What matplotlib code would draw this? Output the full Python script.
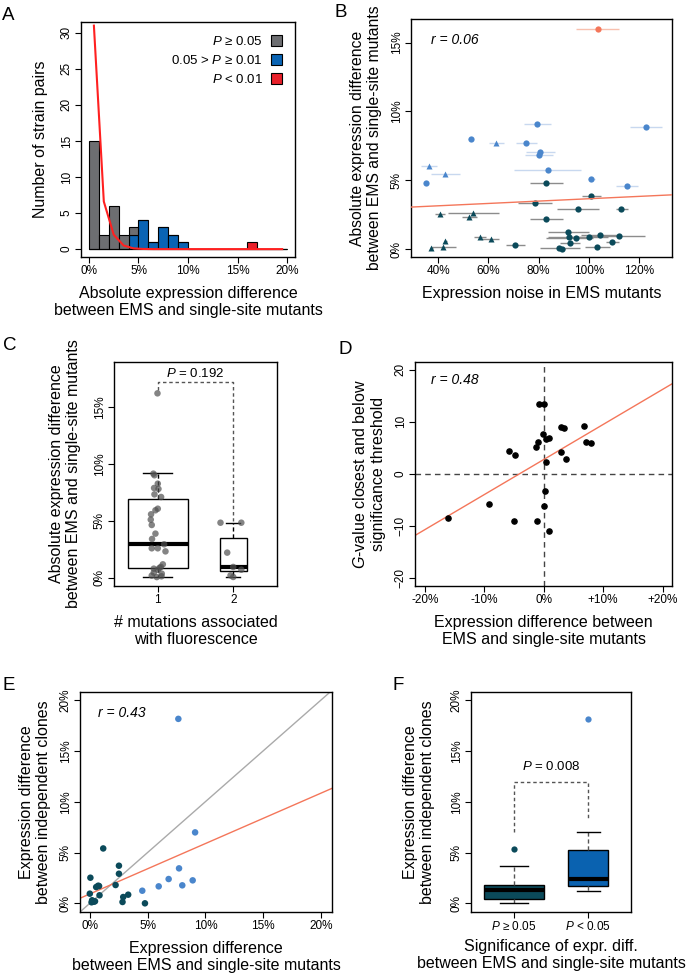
import numpy as np
import matplotlib
matplotlib.use('Agg')
import matplotlib.pyplot as plt
from matplotlib.patches import Patch

plt.rcParams['font.family'] = 'Liberation Sans'
plt.rcParams['mathtext.fontset'] = 'custom'
plt.rcParams['mathtext.it'] = 'Liberation Sans:italic'
plt.rcParams['mathtext.rm'] = 'Liberation Sans'

# ---------------- data ----------------
# A: histogram of absolute expression differences (1% bins)
a_edges = [0, 1, 2, 3, 4, 5, 6, 7, 8, 9, 10, 11, 12, 13, 14, 15, 16, 17, 18, 19, 20]
a_grey = [15, 2, 6, 2, 1, 0, 0, 0, 0, 0, 0, 0, 0, 0, 0, 0, 0, 0, 0, 0]
a_blue = [0, 0, 0, 0, 2, 4, 1, 3, 2, 1, 0, 0, 0, 0, 0, 0, 0, 0, 0, 0]
a_red = [0, 0, 0, 0, 0, 0, 0, 0, 0, 0, 0, 0, 0, 0, 0, 0, 1, 0, 0, 0]
a_null = [31.0, 6.6, 2.0, 0.5, 0.1, 0.02, 0, 0, 0, 0, 0, 0, 0, 0, 0, 0, 0, 0, 0, 0]

# B: noise vs absolute difference (x, y, xerr low, xerr high)
b_lb_circ_x = [79.5, 122.6, 53.0, 75.0, 80.7, 80.2, 83.6, 100.7, 115.1, 35.0]
b_lb_circ_y = [9.07, 8.88, 8.0, 7.74, 7.04, 6.85, 5.78, 5.06, 4.6, 4.79]
b_lb_circ_lo = [74.2, 116.3, 52.0, 71.0, 74.9, 74.6, 70.4, 99.6, 110.7, 34.2]
b_lb_circ_hi = [84.8, 129.3, 54.0, 79.4, 86.7, 85.8, 97.0, 102.6, 119.6, 35.8]
b_lb_tri_x = [63.2, 36.2, 42.8]
b_lb_tri_y = [7.69, 6.02, 5.49]
b_lb_tri_lo = [60.3, 33.1, 37.0]
b_lb_tri_hi = [66.3, 39.7, 48.6]
b_dk_circ_x = [83.1, 100.8, 78.5, 95.7, 112.8, 83.1, 91.7, 92.0, 94.8, 100.1, 104.3,
               112.0, 92.4, 109.4, 70.8, 88.3, 89.5, 103.4]
b_dk_circ_y = [4.79, 3.82, 3.36, 2.88, 2.9, 2.15, 1.21, 0.9, 0.77, 0.85, 1.04,
               0.94, 0.44, 0.48, 0.27, 0.1, 0.02, 0.15]
b_dk_circ_lo = [76.7, 97.2, 71.6, 87.5, 111.0, 76.7, 83.6, 83.7, 82.8, 91.6, 96.9,
                99.2, 88.7, 106.7, 66.9, 80.5, 88.5, 98.4]
b_dk_circ_hi = [89.7, 104.7, 85.4, 103.9, 115.7, 89.7, 100.1, 98.6, 101.8, 107.6, 111.4,
                122.5, 96.6, 112.1, 74.6, 96.4, 90.5, 108.4]
b_dk_tri_x = [40.7, 53.9, 52.3, 56.7, 61.1, 42.9, 42.1, 37.3]
b_dk_tri_y = [2.56, 2.59, 2.3, 0.9, 0.73, 0.56, 0.17, 0.07]
b_dk_tri_lo = [38.9, 44.0, 49.7, 54.2, 57.1, 42.2, 37.1, 36.8]
b_dk_tri_hi = [42.6, 64.1, 55.3, 59.2, 64.4, 43.6, 47.3, 37.8]
b_out_x = [103.7]
b_out_y = [16.0]
b_out_lo = [95.0]
b_out_hi = [112.0]
b_fit = (3.05, 0.00856, 29.1)  # y at x0, slope, x0

# C: differences grouped by # mutations
c1_y = [16.2, 9.14, 9.0, 8.26, 7.88, 7.8, 7.32, 7.09, 6.06, 5.92, 5.57, 5.1, 4.63, 3.87,
        3.4, 2.93, 2.58, 2.58, 2.31, 1.17, 0.94, 0.85, 0.79, 0.7, 0.44, 0.35, 0.18, 0.12, 0.05]
c1_jit = [-0.004, -0.058, -0.044, 0.0, -0.049, 0.009, -0.044, 0.044, 0.0, -0.031, -0.089,
          -0.093, -0.08, -0.031, -0.076, 0.084, -0.08, 0.0, 0.102, 0.067, 0.04, 0.022,
          -0.053, 0.0, -0.053, 0.053, -0.08, 0.049, -0.013]
c2_y = [4.83, 4.83, 2.2, 0.94, 0.7, 0.2, 0.06]
c2_jit = [-0.169, 0.107, -0.08, 0.0, 0.107, -0.036, 0.0]
c_whislo = [0.06, 0.06]
c_q1 = [0.88, 0.56]
c_med = [2.96, 0.97]
c_q3 = [6.91, 3.52]
c_whishi = [9.23, 4.83]
c_labels = ['1', '2']

# D: signed difference vs G-value
d_x = [-0.87, -0.03, 2.94, 3.34, 6.76, -0.2, 0.42, 0.87, -0.93, 7.15, 7.94, -1.32, -5.86,
       -4.85, 2.88, 3.78, 0.42, 0.2, 0.03, -9.17, -16.07, -5.08, -1.21, 0.87]
d_y = [13.5, 13.4, 9.0, 8.9, 9.2, 7.6, 6.7, 6.9, 6.2, 6.1, 5.9, 5.1, 4.4, 3.7, 4.3, 2.8,
       2.2, -3.2, -6.1, -5.8, -8.5, -9.1, -9.1, -11.0]
d_fit = (2.78, 0.672)  # intercept, slope

# E: EMS vs single-site difference against clone difference
e_lb_x = [7.66, 9.11, 7.72, 6.82, 8.9, 5.96, 8.0, 4.54]
e_lb_y = [18.15, 6.98, 3.44, 2.39, 2.26, 1.67, 1.77, 1.24]
e_dk_x = [1.16, 2.52, 2.52, 0.05, 2.23, 0.72, 0.55, 0.8, 0.0, 0.84, 3.32, 2.89, 2.83,
          4.77, 0.2, 0.35, 0.15, 0.45]
e_dk_y = [5.4, 3.7, 2.91, 2.52, 1.8, 1.73, 1.6, 1.7, 0.95, 0.79, 0.85, 0.62, 0.13,
          0.0, 0.3, 0.16, 0.1, 0.2]
e_fit = (0.92, 0.496)

# F: clone differences by significance group
f_whislo = [0.0, 1.24]
f_q1 = [0.39, 1.67]
f_med = [1.31, 2.36]
f_q3 = [1.77, 5.21]
f_whishi = [3.7, 6.98]
f_fliers = [[5.37], [18.13]]
f_labels = [r'$\it{P}$ ≥ 0.05', r'$\it{P}$ < 0.05']

# ---------------- colours ----------------
GREY = '#6d6e71'
BLUE = '#0a64b4'
RED = '#e8202a'
LBLUE = '#4a86cc'
DTEAL = '#0b4a5a'
SALMON = '#f4765a'

fig = plt.figure(figsize=(6.86, 9.74), dpi=100)


def r_style(ax):
    for s in ax.spines.values():
        s.set_linewidth(1.0)
    ax.tick_params(direction='out', length=4, width=0.8, labelsize=8.5, pad=2)
    plt.setp(ax.get_yticklabels(), rotation=90, va='center')


pct = lambda ticks: ['%d%%' % t for t in ticks]

# ---------------- A ----------------
axA = fig.add_axes([0.1181, 0.7361, 0.312, 0.2413])
lefts = np.array(a_edges[:-1])
axA.bar(lefts, a_blue, width=1, align='edge', color=BLUE, edgecolor='black', linewidth=0.8)
axA.bar(lefts, a_grey, width=1, align='edge', bottom=a_blue, color=GREY, edgecolor='black', linewidth=0.8)
axA.bar(lefts, a_red, width=1, align='edge', color=RED, edgecolor='black', linewidth=0.8)
axA.plot(lefts + 0.5, a_null, color='#ff2020', lw=1.5)
axA.set_xlim(-0.8, 20.8)
axA.set_ylim(-1.1, 31.5)
axA.set_xticks([0, 5, 10, 15, 20])
axA.set_xticklabels(pct([0, 5, 10, 15, 20]))
axA.set_yticks([0, 5, 10, 15, 20, 25, 30])
axA.set_ylabel('Number of strain pairs', fontsize=11.5, labelpad=9)
axA.set_xlabel('Absolute expression difference\nbetween EMS and single-site mutants',
               fontsize=11.5, labelpad=6)
handles = [Patch(facecolor=GREY, edgecolor='black', lw=0.8),
           Patch(facecolor=BLUE, edgecolor='black', lw=0.8),
           Patch(facecolor=RED, edgecolor='black', lw=0.8)]
axA.legend(handles, [r'$\it{P}$ ≥ 0.05', r'0.05 > $\it{P}$ ≥ 0.01', r'$\it{P}$ < 0.01'],
           loc='upper right', frameon=False, markerfirst=False, fontsize=9.5,
           handlelength=0.85, handleheight=0.85, handletextpad=0.6, labelspacing=0.45,
           borderaxespad=0.7, borderpad=0.3)
r_style(axA)

# ---------------- B ----------------
axB = fig.add_axes([0.5991, 0.7361, 0.3805, 0.2444])
groups = [
    (b_lb_circ_x, b_lb_circ_y, b_lb_circ_lo, b_lb_circ_hi, LBLUE, '#c8d8ef', 'o'),
    (b_lb_tri_x, b_lb_tri_y, b_lb_tri_lo, b_lb_tri_hi, LBLUE, '#c8d8ef', '^'),
    (b_dk_circ_x, b_dk_circ_y, b_dk_circ_lo, b_dk_circ_hi, DTEAL, '#8c8c8c', 'o'),
    (b_dk_tri_x, b_dk_tri_y, b_dk_tri_lo, b_dk_tri_hi, DTEAL, '#8c8c8c', '^'),
    (b_out_x, b_out_y, b_out_lo, b_out_hi, SALMON, '#f8c0ae', 'o'),
]
for gx, gy, lo, hi, col, ecol, mk in groups:
    gx = np.array(gx)
    err = [gx - np.array(lo), np.array(hi) - gx]
    axB.errorbar(gx, gy, xerr=err, fmt='none', ecolor=ecol, elinewidth=1.0, capsize=0, zorder=1)
    axB.plot(gx, gy, mk, color=col, ms=4.5 if mk == 'o' else 5, mec='none', zorder=2)
axB.set_xlim(29.2, 133.1)
axB.set_ylim(-0.58, 16.72)
xx = np.array(axB.get_xlim())
axB.plot(xx, b_fit[0] + b_fit[1] * (xx - b_fit[2]), color=SALMON, lw=1.0, zorder=3)
axB.set_xticks([40, 60, 80, 100, 120])
axB.set_xticklabels(pct([40, 60, 80, 100, 120]))
axB.set_yticks([0, 5, 10, 15])
axB.set_yticklabels(pct([0, 5, 10, 15]))
axB.text(0.077, 0.912, 'r = 0.06', style='italic', transform=axB.transAxes, fontsize=10, va='center')
axB.set_xlabel('Expression noise in EMS mutants', fontsize=11.5, labelpad=6)
axB.set_ylabel('Absolute expression difference\nbetween EMS and single-site mutants',
               fontsize=11.3, labelpad=6, linespacing=1.2)
r_style(axB)

# ---------------- C ----------------
axC = fig.add_axes([0.1662, 0.3984, 0.2376, 0.2300])
c_stats = [dict(whislo=c_whislo[i], q1=c_q1[i], med=c_med[i], q3=c_q3[i],
                whishi=c_whishi[i], fliers=[]) for i in range(2)]
axC.bxp(c_stats, positions=[1, 2], widths=[0.8, 0.36], capwidths=[0.39, 0.18],
        patch_artist=True,
        boxprops=dict(facecolor='white', edgecolor='black', lw=1.0),
        medianprops=dict(color='black', lw=3),
        whiskerprops=dict(color='black', lw=1.0, ls=(0, (3, 2))),
        capprops=dict(color='black', lw=1.0))
axC.scatter(1 + np.array(c1_jit), c1_y, s=22, color='#505050', alpha=0.7, edgecolors='none', zorder=3)
axC.scatter(2 + np.array(c2_jit), c2_y, s=22, color='#505050', alpha=0.7, edgecolors='none', zorder=3)
axC.plot([1, 1, 2, 2], [16.5, 17.2, 17.2, 5.0], color='#555555', lw=1.0, ls=(0, (2.5, 2)))
axC.text(1.5, 17.4, r'$\it{P}$ = 0.192', ha='center', va='bottom', fontsize=9.5)
axC.set_xlim(0.42, 2.58)
axC.set_ylim(-0.73, 18.96)
axC.set_xticks([1, 2])
axC.set_xticklabels(c_labels)
axC.set_yticks([0, 5, 10, 15])
axC.set_yticklabels(pct([0, 5, 10, 15]))
axC.set_xlabel('# mutations associated\nwith fluorescence', fontsize=11.5, labelpad=6)
axC.set_ylabel('Absolute expression difference\nbetween EMS and single-site mutants',
               fontsize=11.5, labelpad=9)
r_style(axC)

# ---------------- D ----------------
axD = fig.add_axes([0.6050, 0.3984, 0.3746, 0.2300])
axD.axhline(0, color='#444444', lw=1.0, ls=(0, (4, 3)), zorder=1)
axD.axvline(0, color='#444444', lw=1.0, ls=(0, (4, 3)), zorder=1)
axD.scatter(d_x, d_y, s=14, color='black', zorder=3)
axD.set_xlim(-21.7, 21.6)
axD.set_ylim(-21.5, 21.5)
xx = np.array(axD.get_xlim())
axD.plot(xx, d_fit[0] + d_fit[1] * xx, color=SALMON, lw=1.0, zorder=2)
axD.set_xticks([-20, -10, 0, 10, 20])
axD.set_xticklabels(['-20%', '-10%', '0%', '+10%', '+20%'])
axD.set_yticks([-20, -10, 0, 10, 20])
axD.text(0.062, 0.92, 'r = 0.48', style='italic', transform=axD.transAxes, fontsize=10, va='center')
axD.set_xlabel('Expression difference between\nEMS and single-site mutants', fontsize=11.5, labelpad=6)
axD.set_ylabel('$\\it{G}$-value closest and below\nsignificance threshold', fontsize=11.5,
               labelpad=6, linespacing=1.3)
r_style(axD)

# ---------------- E ----------------
axE = fig.add_axes([0.1166, 0.0637, 0.3673, 0.2259])
axE.set_xlim(-0.85, 20.95)
axE.set_ylim(-0.85, 20.8)
axE.plot([-1, 21], [-1, 21], color='#aaaaaa', lw=1.0, zorder=1)
xx = np.array(axE.get_xlim())
axE.plot(xx, e_fit[0] + e_fit[1] * xx, color=SALMON, lw=1.0, zorder=2)
axE.scatter(e_dk_x, e_dk_y, s=22, color=DTEAL, edgecolors='none', zorder=3)
axE.scatter(e_lb_x, e_lb_y, s=22, color=LBLUE, edgecolors='none', zorder=3)
axE.set_xticks([0, 5, 10, 15, 20])
axE.set_xticklabels(pct([0, 5, 10, 15, 20]))
axE.set_yticks([0, 5, 10, 15, 20])
axE.set_yticklabels(pct([0, 5, 10, 15, 20]))
axE.text(0.071, 0.905, 'r = 0.43', style='italic', transform=axE.transAxes, fontsize=10, va='center')
axE.set_xlabel('Expression difference\nbetween EMS and single-site mutants', fontsize=11.5, labelpad=6)
axE.set_ylabel('Expression difference\nbetween independent clones', fontsize=11.5, labelpad=6)
r_style(axE)

# ---------------- F ----------------
axF = fig.add_axes([0.6866, 0.0637, 0.2332, 0.2259])
f_stats = [dict(whislo=f_whislo[i], q1=f_q1[i], med=f_med[i], q3=f_q3[i],
                whishi=f_whishi[i], fliers=f_fliers[i]) for i in range(2)]
bp = axF.bxp(f_stats, positions=[1, 2], widths=[0.8, 0.54], capwidths=[0.39, 0.31],
             patch_artist=True,
             boxprops=dict(edgecolor='black', lw=1.0),
             medianprops=dict(color='black', lw=3),
             whiskerprops=dict(color='#555555', lw=1.0, ls=(0, (3, 2))),
             capprops=dict(color='black', lw=1.0),
             flierprops=dict(marker='o', ms=4.5, mec='none'))
for patch, col in zip(bp['boxes'], [DTEAL, '#0a62b0']):
    patch.set_facecolor(col)
bp['fliers'][0].set_markerfacecolor(DTEAL)
bp['fliers'][1].set_markerfacecolor(LBLUE)
axF.plot([1, 1, 2, 2], [6.98, 11.96, 11.96, 8.36], color='#555555', lw=1.0, ls=(0, (2.5, 2)))
axF.text(1.5, 13.43, r'$\it{P}$ = 0.008', ha='center', va='center', fontsize=9.5)
axF.set_xlim(0.42, 2.58)
axF.set_ylim(-0.85, 20.8)
axF.set_xticks([1, 2])
axF.set_xticklabels(f_labels)
axF.set_yticks([0, 5, 10, 15, 20])
axF.set_yticklabels(pct([0, 5, 10, 15, 20]))
axF.set_xlabel('Significance of expr. diff.\nbetween EMS and single-site mutants', fontsize=11.5, labelpad=4)
axF.set_ylabel('Expression difference\nbetween independent clones', fontsize=11.5, labelpad=11)
r_style(axF)

# panel letters
for lab, x, y in [('A', 2, 7), ('B', 334, 4), ('C', 3, 337), ('D', 339, 341),
                  ('E', 2, 677), ('F', 393, 677)]:
    fig.text(x / 686, 1 - y / 974, lab, fontsize=13.5, ha='left', va='top')

fig.savefig('out.png', dpi=100)
